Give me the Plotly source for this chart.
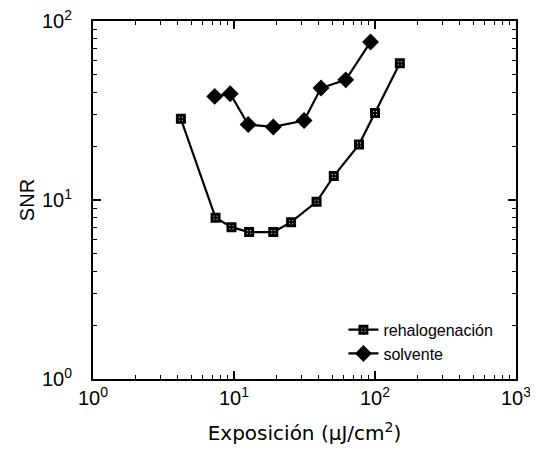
import plotly.graph_objects as go

# rehalogenación series
rehal_x = [4.2, 7.4, 9.6, 12.8, 19.0, 25.4, 38.5, 51, 77, 100, 150]
rehal_y = [28.4, 7.96, 7.05, 6.62, 6.62, 7.52, 9.77, 13.6, 20.4, 30.6, 58]

# solvente series
solv_x = [7.3, 9.4, 12.6, 19.0, 31.4, 41.4, 62, 93]
solv_y = [37.9, 39.2, 26.4, 25.6, 27.8, 42.2, 46.9, 76.4]

x_tickvals = [1, 10, 100, 1000]
x_ticktext = ["10<sup>0</sup>", "10<sup>1</sup>", "10<sup>2</sup>", "10<sup>3</sup>"]
y_tickvals = [1, 10, 100]
y_ticktext = ["10<sup>0</sup>", "10<sup>1</sup>", "10<sup>2</sup>"]

fig = go.Figure()
fig.add_trace(go.Scatter(
    x=rehal_x, y=rehal_y, mode="lines+markers", name="rehalogenación",
    line=dict(color="black", width=2.2),
    marker=dict(symbol="square-dot", size=7, color="white",
                line=dict(color="black", width=3)),
))
fig.add_trace(go.Scatter(
    x=solv_x, y=solv_y, mode="lines+markers", name="solvente",
    line=dict(color="black", width=2.2),
    marker=dict(symbol="diamond", size=13, color="black"),
))

font = "Liberation Sans, Arial, sans-serif"
axis_common = dict(
    type="log", showgrid=False, zeroline=False,
    showline=True, linecolor="black", linewidth=2, mirror="allticks",
    ticks="inside", ticklen=8, tickwidth=1.5, tickcolor="black",
    tickmode="array", ticklabeloverflow="allow",
    tickfont=dict(family=font, size=20, color="black"),
    minor=dict(ticks="inside", ticklen=4, tickwidth=1.2, tickcolor="black", dtick="D1"),
)

fig.update_xaxes(**axis_common, range=[0, 3], tickvals=x_tickvals, ticktext=x_ticktext,
                 title=dict(text="Exposición (μJ/cm<sup>2</sup>)",
                            font=dict(family="DejaVu Sans, sans-serif", size=20, color="black"),
                            standoff=18))
fig.update_yaxes(**axis_common, range=[0, 2], tickvals=y_tickvals, ticktext=y_ticktext,
                 ticklabelstandoff=15,
                 title=dict(text="SNR", font=dict(family=font, size=20, color="black"), standoff=2))

# page body has an 8px default margin; compensate so the plot area lands at
# x 93-516, y 21-379.5 in the 538x459 window
fig.update_layout(
    width=530, height=451,
    margin=dict(l=85, r=22, t=13, b=79.5, autoexpand=False),
    paper_bgcolor="white", plot_bgcolor="white",
    showlegend=True,
    legend=dict(x=0.592, y=0.185, xanchor="left", yanchor="top",
                bgcolor="rgba(0,0,0,0)", font=dict(family=font, size=16, color="black"),
                itemwidth=30, tracegroupgap=0),
)

fig.write_html("out.html")
